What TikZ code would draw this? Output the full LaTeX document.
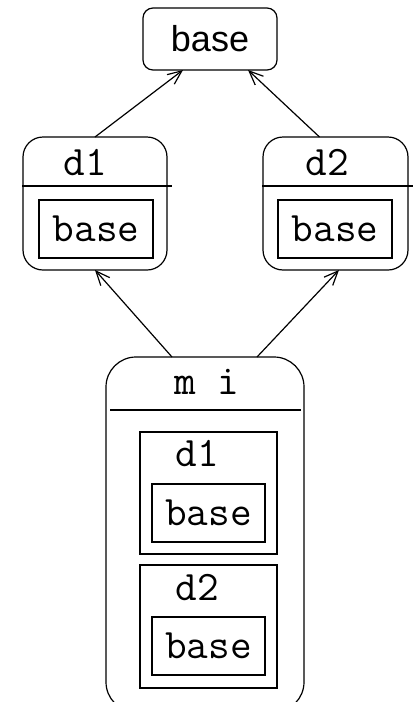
\documentclass[tikz,border=0pt]{standalone}
\usepackage{fontspec}
\setsansfont{Liberation Sans}
\usetikzlibrary{arrows.meta}

\begin{document}
\begin{tikzpicture}[x=0.5pt, y=-0.5pt, line width=0.6pt,
    every node/.style={inner sep=0pt, outer sep=0pt},
    cls/.style={draw, rounded corners=#1},
    box/.style={draw},
    txt/.style={font=\fontsize{21}{24}\selectfont\ttfamily},
    arr/.style={-{Straight Barb[length=7pt,width=6pt]}}]
    \useasboundingbox (0,0) rectangle (414,702);
    \clip (0,0) rectangle (414,702);

    % top class
    \node[cls=5pt, minimum width=67pt, minimum height=31pt,
          font=\fontsize{18}{20}\selectfont\sffamily] (base) at (210,39) {base};

    % d1
    \node[cls=10pt, minimum width=72pt, minimum height=66.5pt] (d1) at (95,203.5) {};
    \draw (22,186) -- (172,186);
    \node[txt] (d1name) at (85,163) {d1};
    \node[box, txt, minimum width=57pt, minimum height=29pt] (d1base) at (96,229) {base};

    % d2
    \node[cls=10pt, minimum width=72.5pt, minimum height=66.5pt] (d2) at (335.5,203.5) {};
    \draw (262,186) -- (413,186);
    \node[txt] (d2name) at (327,163) {d2};
    \node[box, txt, minimum width=57pt, minimum height=29pt] (d2base) at (335,229) {base};

    % mi
    \node[cls=15pt, minimum width=99pt, minimum height=177.5pt] (mi) at (205,534.5) {};
    \draw (110,410) -- (301,410);
    \node[txt] (miname) at (207,382) {m i};
    \node[box, minimum width=68.5pt, minimum height=61pt] (mid1) at (208.5,493) {};
    \node[txt] (mid1name) at (197,454) {d1};
    \node[box, txt, minimum width=56.5pt, minimum height=29pt] (mid1base) at (208.5,513) {base};
    \node[box, minimum width=68.5pt, minimum height=61.5pt] (mid2) at (208.5,626.5) {};
    \node[txt] (mid2name) at (197,588) {d2};
    \node[box, txt, minimum width=56.5pt, minimum height=29pt] (mid2base) at (208.5,646) {base};

    % inheritance
    \draw[arr] (d1.north) -- ([xshift=20pt]base.south west);
    \draw[arr] ([xshift=-8pt]d2.north) -- ([xshift=-14.5pt]base.south east);
    \draw[arr] ([xshift=-16.5pt]mi.north) -- (d1.south);
    \draw[arr] ([xshift=26pt]mi.north) -- ([xshift=1.75pt]d2.south);
\end{tikzpicture}
\end{document}
